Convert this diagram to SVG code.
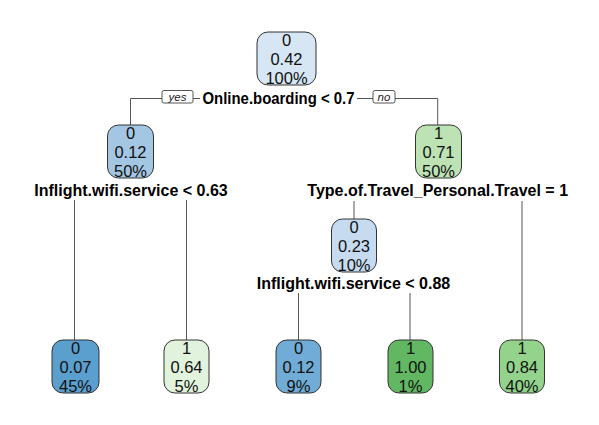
<svg xmlns="http://www.w3.org/2000/svg" width="599" height="425" viewBox="0 0 599 425">
<style>
.bg{fill:#ffffff}
.box{stroke:#333333;stroke-width:1}
.nt{font-family:"Liberation Sans",Arial,sans-serif;font-size:16.5px;fill:#111111;text-anchor:middle}
.sp{font-family:"Liberation Sans",Arial,sans-serif;font-size:16px;font-weight:bold;fill:#000000;text-anchor:middle}
.edge{stroke:#555555;stroke-width:1;fill:none}
.lb{fill:#ffffff;stroke:#555555;stroke-width:1}
.lt{font-family:"Liberation Sans",Arial,sans-serif;font-size:11.5px;font-style:italic;fill:#222222;text-anchor:middle}
</style>
<rect class="bg" x="0" y="0" width="599" height="425"/>
<g id="connectors">
<path class="edge" d="M162,98.5 H130.5 V125"/>
<path class="edge" d="M193,98.5 H200"/>
<path class="edge" d="M357,98.5 H373"/>
<path class="edge" d="M395,98.5 H437.7 V125"/>
<path class="edge" d="M74.5,200 V340"/>
<path class="edge" d="M186.5,200 V340"/>
<path class="edge" d="M354,201 V219"/>
<path class="edge" d="M522,201 V340"/>
<path class="edge" d="M298.5,293 V340"/>
<path class="edge" d="M410,293 V340"/>
<rect class="lb" x="162" y="90.5" width="31" height="12.5" rx="2"/>
<text class="lt" x="177.5" y="100.5">yes</text>
<rect class="lb" x="373" y="90.5" width="22" height="12.5" rx="2"/>
<text class="lt" x="384" y="100.5">no</text>
</g>
<g id="n1">
<rect class="box" x="257" y="32" width="59" height="53" rx="11" fill="#d6e6f4"/>
<text class="nt" x="286.5" y="46">0</text>
<text class="nt" x="286.5" y="65">0.42</text>
<text class="nt" x="286.5" y="84">100%</text>
<text class="sp" x="278.5" y="103.5" textLength="152" lengthAdjust="spacingAndGlyphs">Online.boarding &lt; 0.7</text>
</g>
<g id="n2">
<rect class="box" x="107.5" y="125" width="46" height="53" rx="11" fill="#a3c6e3"/>
<text class="nt" x="130.5" y="139.3">0</text>
<text class="nt" x="130.5" y="158.2">0.12</text>
<text class="nt" x="130.5" y="177.2">50%</text>
<text class="sp" x="131" y="195.5">Inflight.wifi.service &lt; 0.63</text>
</g>
<g id="n3">
<rect class="box" x="415.5" y="125" width="46" height="53" rx="11" fill="#bde3b5"/>
<text class="nt" x="438.5" y="139.3">1</text>
<text class="nt" x="438.5" y="158.2">0.71</text>
<text class="nt" x="438.5" y="177.2">50%</text>
<text class="sp" x="437.7" y="196">Type.of.Travel_Personal.Travel = 1</text>
</g>
<g id="n7">
<rect class="box" x="331.5" y="219" width="45" height="53" rx="11" fill="#c6dbef"/>
<text class="nt" x="354" y="233.3">0</text>
<text class="nt" x="354" y="252.2">0.23</text>
<text class="nt" x="354" y="271.2">10%</text>
<text class="sp" x="353.5" y="289">Inflight.wifi.service &lt; 0.88</text>
</g>
<g id="n4">
<rect class="box" x="52" y="340" width="47" height="53" rx="11" fill="#5b9fcf"/>
<text class="nt" x="75.5" y="354.3">0</text>
<text class="nt" x="75.5" y="373.2">0.07</text>
<text class="nt" x="75.5" y="392.2">45%</text>
</g>
<g id="n5">
<rect class="box" x="164" y="340" width="45" height="53" rx="11" fill="#e1f3dc"/>
<text class="nt" x="186.5" y="354.3">1</text>
<text class="nt" x="186.5" y="373.2">0.64</text>
<text class="nt" x="186.5" y="392.2">5%</text>
</g>
<g id="n14">
<rect class="box" x="276" y="340" width="45" height="53" rx="11" fill="#70acd6"/>
<text class="nt" x="298.5" y="354.3">0</text>
<text class="nt" x="298.5" y="373.2">0.12</text>
<text class="nt" x="298.5" y="392.2">9%</text>
</g>
<g id="n15">
<rect class="box" x="388" y="340" width="45" height="53" rx="11" fill="#62b862"/>
<text class="nt" x="410.5" y="354.3">1</text>
<text class="nt" x="410.5" y="373.2">1.00</text>
<text class="nt" x="410.5" y="392.2">1%</text>
</g>
<g id="n6">
<rect class="box" x="499.5" y="340" width="45" height="53" rx="11" fill="#93d38b"/>
<text class="nt" x="522" y="354.3">1</text>
<text class="nt" x="522" y="373.2">0.84</text>
<text class="nt" x="522" y="392.2">40%</text>
</g>
</svg>
